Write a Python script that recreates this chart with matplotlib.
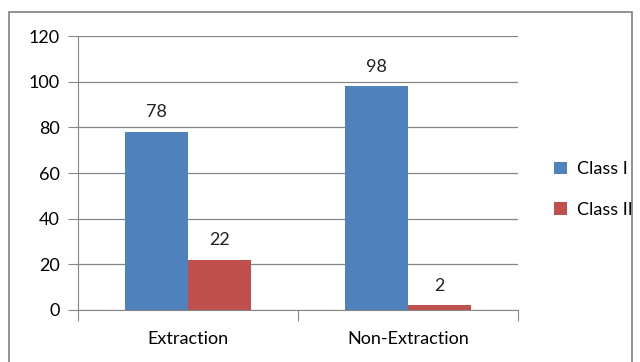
import numpy as np
import matplotlib.pyplot as plt
from matplotlib.patches import Rectangle

categories = ['Extraction', 'Non-Extraction']
class_1 = [78, 98]
class_2 = [22, 2]
series_names = ['Class I', 'Class II']
colors = ['#4F81BD', '#C0504D']

plt.rcParams['font.family'] = ['Lato', 'DejaVu Sans']

W, H = 640, 362
fig = plt.figure(figsize=(W / 100, H / 100), dpi=100)

# outer chart border
fig.patches.append(Rectangle((9 / W, -0.01), (632 - 9) / W, 1 - 12 / H + 0.01,
                             transform=fig.transFigure, fill=False,
                             edgecolor='#7f7f7f', lw=1.2))

ax = fig.add_axes([78 / W, 1 - 310 / H, (518 - 78) / W, (310 - 36) / H])

x = np.arange(len(categories))
width = 0.285
b1 = ax.bar(x - width / 2, class_1, width, color=colors[0], label=series_names[0])
b2 = ax.bar(x + width / 2, class_2, width, color=colors[1], label=series_names[1])

for bars, vals in [(b1, class_1), (b2, class_2)]:
    for rect, v in zip(bars, vals):
        ax.text(rect.get_x() + rect.get_width() / 2, v + 5, str(v),
                ha='center', va='bottom', fontsize=13, color='#222222')

ax.set_xlim(-0.5, 1.5)
ax.set_ylim(0, 120)
ax.set_yticks(range(0, 121, 20))
ax.yaxis.grid(True, color='#868686', lw=0.9)
ax.set_axisbelow(True)

ax.set_xticks([-0.5, 0.5, 1.5])
ax.set_xticklabels([])
ax.set_xticks(x, minor=True)
ax.set_xticklabels(categories, minor=True)
ax.tick_params(axis='x', which='major', length=8, color='#868686')
ax.tick_params(axis='x', which='minor', length=0, pad=15, labelsize=13)
ax.tick_params(axis='y', length=7, color='#868686', labelsize=13, pad=6)

for side in ['top', 'right']:
    ax.spines[side].set_visible(False)
for side in ['left', 'bottom']:
    ax.spines[side].set_color('#868686')

ax.legend(loc='center left', bbox_to_anchor=(1.045, 0.44), frameon=False,
          fontsize=13, handlelength=0.7, handleheight=0.7,
          labelspacing=1.35, handletextpad=0.55)

fig.savefig('out.png', dpi=100)
